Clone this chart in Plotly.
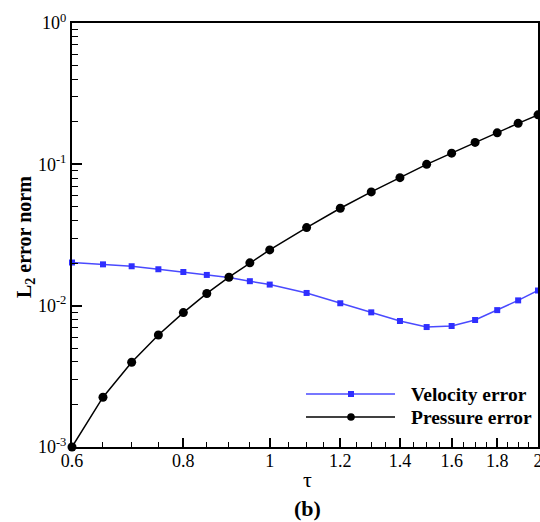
import numpy as np
import plotly.graph_objects as go

tau = [0.6, 0.65, 0.7, 0.75, 0.8, 0.85, 0.9, 0.95, 1.0, 1.1, 1.2, 1.3, 1.4, 1.5, 1.6, 1.7, 1.8, 1.9, 2.0]
velocity_error = [2.02e-2, 1.96e-2, 1.90e-2, 1.81e-2, 1.73e-2, 1.65e-2, 1.58e-2, 1.49e-2, 1.41e-2,
                  1.23e-2, 1.04e-2, 8.97e-3, 7.79e-3, 7.06e-3, 7.18e-3, 7.92e-3, 9.3e-3, 1.09e-2, 1.28e-2]
pressure_error = [1.0e-3, 2.25e-3, 3.98e-3, 6.2e-3, 8.93e-3, 1.22e-2, 1.59e-2, 2.01e-2, 2.48e-2,
                  3.57e-2, 4.89e-2, 6.38e-2, 8.05e-2, 0.100, 0.120, 0.143, 0.167, 0.195, 0.224]

x_tickvals = [0.6, 0.8, 1.0, 1.2, 1.4, 1.6, 1.8, 2.0]
x_ticktext = ["0.6", "0.8", "1", "1.2", "1.4", "1.6", "1.8", "2"]
x_minor = [0.65, 0.7, 0.75, 0.85, 0.9, 0.95, 1.05, 1.1, 1.15, 1.25, 1.3, 1.35,
           1.45, 1.5, 1.55, 1.65, 1.7, 1.75, 1.85, 1.9, 1.95]
y_tickvals = [1e-3, 1e-2, 1e-1, 1e0]
y_ticktext = ["10<sup>-3</sup>", "10<sup>-2</sup>", "10<sup>-1</sup>", "10<sup>0</sup>"]
y_minor = [m * 10.0 ** e for e in (-3, -2, -1) for m in range(2, 10)]

FONT = "Liberation Serif, Times New Roman, serif"
BLUE_LINE = "#4a4aff"
BLUE_MARK = "#2f2fff"

# plot area in pixels
L, R, T, B = 72, 538, 23, 447
W, H = 540, 522

fig = go.Figure()
fig.add_trace(go.Scatter(x=tau, y=velocity_error, mode="lines+markers", name="Velocity error",
                         line=dict(color=BLUE_LINE, width=1.5),
                         marker=dict(symbol="square", size=6, color=BLUE_MARK),
                         cliponaxis=False, showlegend=False))
fig.add_trace(go.Scatter(x=tau, y=pressure_error, mode="lines+markers", name="Pressure error",
                         line=dict(color="black", width=1.5),
                         marker=dict(symbol="circle", size=9, color="black"),
                         cliponaxis=False, showlegend=False))

axis_common = dict(showline=True, linecolor="black", linewidth=2, mirror=True,
                   ticks="inside", tickcolor="black", tickwidth=1.5, showgrid=False,
                   zeroline=False, ticklabeloverflow="allow",
                   tickfont=dict(family=FONT, size=18, color="black"))

fig.update_xaxes(type="log", range=[np.log10(0.6), np.log10(2.0)], tickmode="array",
                 tickvals=x_tickvals, ticktext=x_ticktext, ticklen=9, ticklabelstandoff=-4,
                 minor=dict(tickmode="array", tickvals=x_minor, ticks="inside", ticklen=5,
                            tickcolor="black", tickwidth=1, showgrid=False),
                 **axis_common)
fig.update_yaxes(type="log", range=[-3, 0], tickmode="array",
                 tickvals=y_tickvals, ticktext=y_ticktext, ticklen=10,
                 minor=dict(tickmode="array", tickvals=y_minor, ticks="inside", ticklen=6,
                            tickcolor="black", tickwidth=1, showgrid=False),
                 **axis_common)

def px_x(p):
    return (p - L) / (R - L)

def px_y(p):
    return (B - p) / (B - T)

# custom legend
legend_items = [("Velocity error", 394, BLUE_LINE, BLUE_MARK, "rect", 3),
                ("Pressure error", 417, "black", "black", "circle", 3.8)]
shapes = []
annotations = []
for label, py, lc, mc, kind, r in legend_items:
    yy = px_y(py)
    shapes.append(dict(type="line", xref="paper", yref="paper", x0=px_x(306), x1=px_x(395),
                       y0=yy, y1=yy, line=dict(color=lc, width=1.5)))
    shapes.append(dict(type=kind, xref="paper", yref="paper", xsizemode="pixel", ysizemode="pixel",
                       xanchor=px_x(351), yanchor=yy, x0=-r, x1=r, y0=-r, y1=r,
                       fillcolor=mc, line=dict(color=mc, width=0)))
    annotations.append(dict(text="<b>%s</b>" % label, xref="paper", yref="paper", x=px_x(409), y=yy,
                            xanchor="left", yanchor="middle", showarrow=False,
                            font=dict(family=FONT, size=19.5, color="black")))

annotations.append(dict(text="τ", xref="paper", yref="paper", x=px_x(307), y=px_y(479),
                        xanchor="center", yanchor="middle", showarrow=False,
                        font=dict(family=FONT, size=22, color="black")))
annotations.append(dict(text="<b>(b)</b>", xref="paper", yref="paper", x=px_x(307), y=px_y(509),
                        xanchor="center", yanchor="middle", showarrow=False,
                        font=dict(family=FONT, size=22, color="black")))
annotations.append(dict(text="<b>L<sub>2</sub> error norm</b>", xref="paper", yref="paper",
                        x=px_x(25), y=px_y(237), xanchor="center", yanchor="middle",
                        textangle=-90, showarrow=False,
                        font=dict(family=FONT, size=20, color="black")))

fig.update_layout(width=W, height=H, margin=dict(l=L, r=W - R, t=T, b=H - B, autoexpand=False),
                  paper_bgcolor="white", plot_bgcolor="white", showlegend=False,
                  shapes=shapes, annotations=annotations,
                  font=dict(family=FONT, color="black"))

fig.write_html("out.html")
